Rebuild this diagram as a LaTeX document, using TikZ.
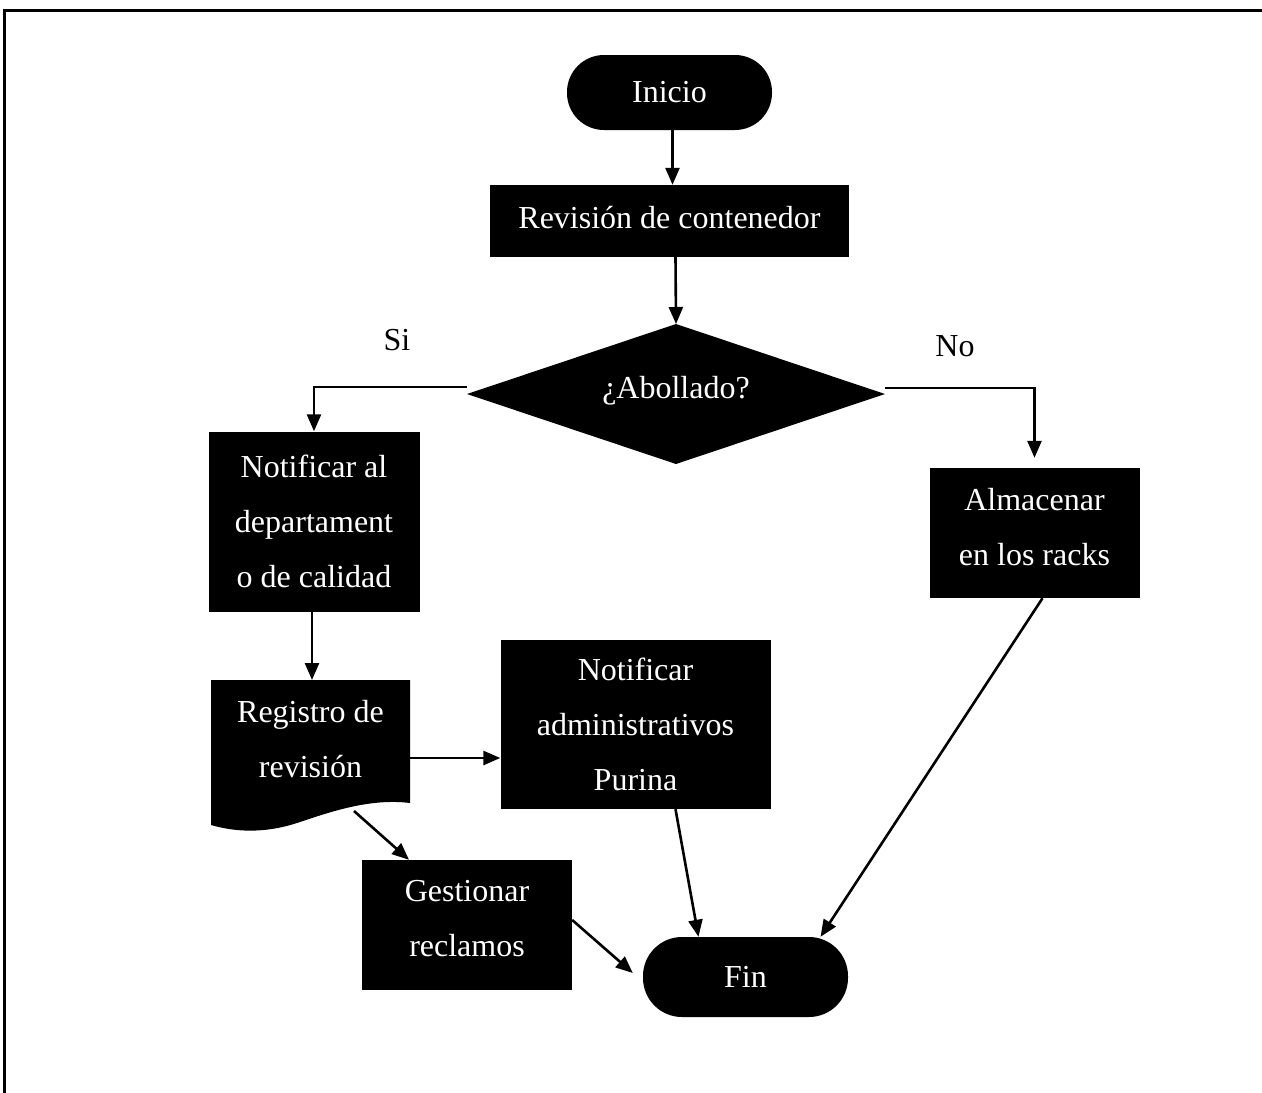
\documentclass[tikz,border=0pt]{standalone}
\usepackage{fontspec}
\setmainfont{Liberation Serif}
\usetikzlibrary{arrows.meta}
\begin{document}
\begin{tikzpicture}[x=1pt,y=-1pt,
  box/.style={fill=black,text=white,inner sep=0pt,align=center,font=\fontsize{32}{55}\selectfont},
  txt/.style={box,fill=none},
  term/.style={box,rounded corners=37pt},
  arr/.style={line width=2.6pt,-{Triangle[length=17pt,width=14pt]}},
  lbl/.style={font=\fontsize{32}{38}\selectfont}]
\useasboundingbox (0,0) rectangle (1262,1093);
% frame
\draw[line width=3pt] (4,1093) -- (4,10) -- (1262,10);
% nodes
\node[term,minimum width=205pt,minimum height=75pt] (ini) at (669.5,92.5) {Inicio};
\node[box,minimum width=359pt,minimum height=72pt] (rev) at (669.5,221) {};
\node[txt] (revt) at (669.5,218) {Revisi\'on de contenedor};
\coordinate (dT) at (676,324);
\coordinate (dB) at (676,464);
\coordinate (dL) at (467,394);
\coordinate (dR) at (885,394);
\fill (dT) -- (dR) -- (dB) -- (dL) -- cycle;
\node[txt] (dia) at (676,391) {¿Abollado?};
\node[box,minimum width=211pt,minimum height=180pt] (notif) at (314,521.5) {Notificar al\\departament\\o de calidad};
\node[box,minimum width=210pt,minimum height=130pt] (alm) at (1034.5,533) {};
\node[txt] (almt) at (1034.5,527.5) {Almacenar\\en los racks};
\fill (211,680) -- (410,680) -- (410,803) .. controls (370,798) and (330,812) .. (300,822) .. controls (265,834) and (235,832) .. (211,825) -- cycle;
\node[txt,minimum width=199pt,minimum height=123pt] (reg) at (310.5,739.5) {Registro de\\revisi\'on};
\node[box,minimum width=270pt,minimum height=169pt] (adm) at (635.5,724.5) {Notificar\\administrativos\\Purina};
\node[box,minimum width=210pt,minimum height=130pt] (ges) at (467,925) {};
\node[txt] (gest) at (467,918.5) {Gestionar\\reclamos};
\node[term,minimum width=205pt,minimum height=80pt,rounded corners=39pt] (fin) at (745.5,977) {Fin};
\node[lbl] (si) at (397,340) {Si};
\node[lbl] (no) at (955,346) {No};
% connectors
\draw[arr] ([xshift=3pt]ini.south) -- ([xshift=3pt]rev.north);
\draw[arr] ([xshift=6pt]rev.south) -- (dT);
\draw[arr] ([yshift=7pt]dL) -| (notif.north);
\draw[arr] ([yshift=6pt]dR) -| ([yshift=10pt]alm.north);
\draw[arr] ([xshift=-2pt]notif.south) -- ([xshift=-2pt]notif.south |- 0,680);
\draw[arr] (410,758) -- (adm.west |- 0,758);
\draw[arr] (354,811) -- ([xshift=-58pt]ges.north);
\draw[arr] ([yshift=5pt]ges.east) -- ([xshift=-10pt,yshift=4pt]fin.west);
\draw[arr] ([xshift=40pt]adm.south) -- ([xshift=-47pt]fin.north);
\draw[arr] ([xshift=8pt]alm.south) -- ([xshift=75pt]fin.north);
\end{tikzpicture}
\end{document}
